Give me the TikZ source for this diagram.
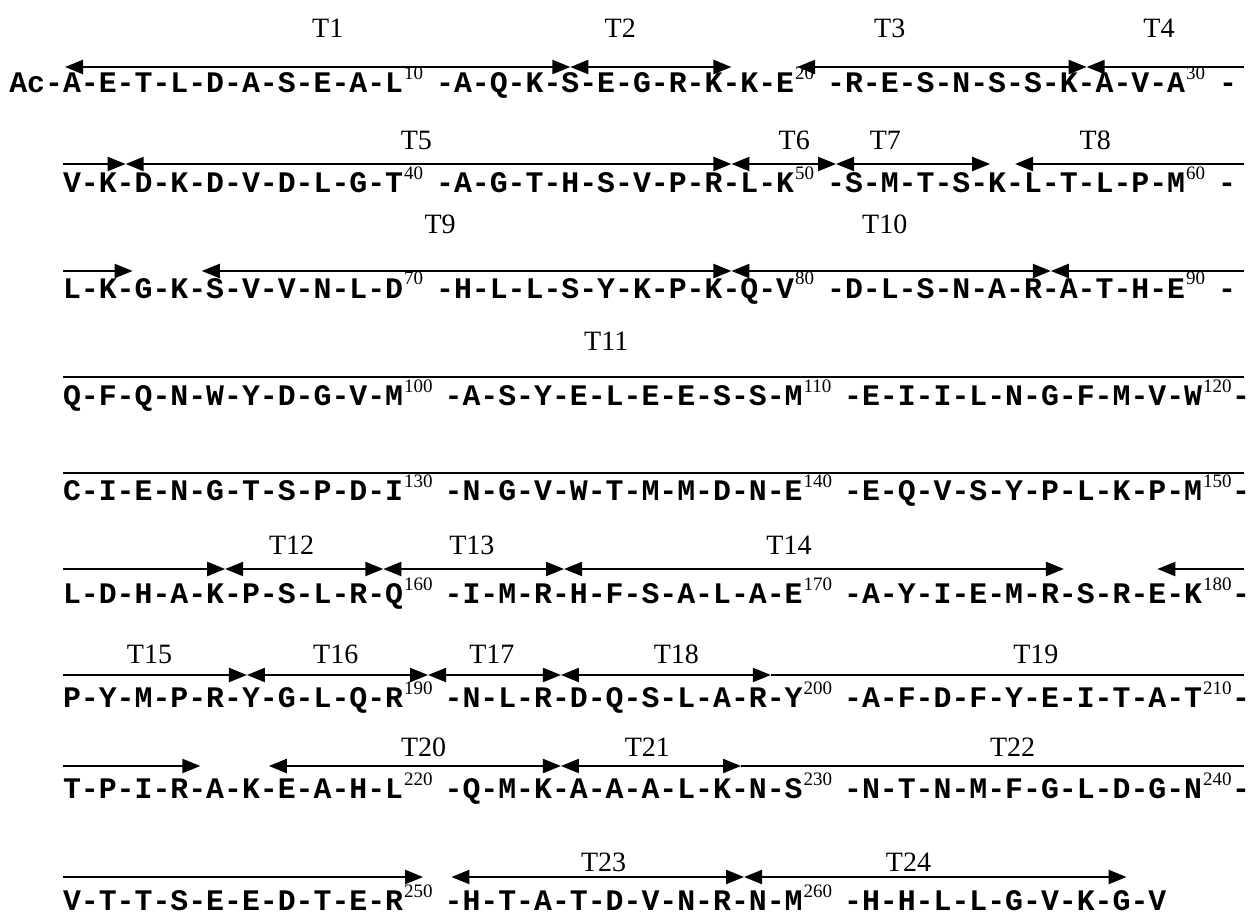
\documentclass[tikz,border=0pt]{standalone}
\usepackage{fontspec}
\setmainfont{Liberation Serif}
\newfontfamily\seqfont{Liberation Mono}
\usetikzlibrary{arrows.meta,calc}
\def\cw{17.9}
\def\xzero{63}
\tikzset{
  res/.style={font=\seqfont\bfseries\fontsize{14.92}{16}\selectfont, inner sep=0pt, outer sep=0pt, anchor=base west},
  supnum/.style={font=\fontsize{9.5}{10}\selectfont, inner sep=0pt, outer sep=0pt, anchor=base west},
  lab/.style={font=\fontsize{14}{16}\selectfont, inner sep=0pt, anchor=base},
  seg/.style={line width=1.1pt},
  arrLR/.style={seg, {Triangle[length=9pt,width=7pt]}-{Triangle[length=9pt,width=7pt]}},
  arrR/.style={seg, -{Triangle[length=9pt,width=7pt]}},
  arrL/.style={seg, {Triangle[length=9pt,width=7pt]}-},
}
% #1 baseline y, #2 first number, #3 decade gap, #4 last index, #5 residues
\newcommand\seqrow[5]{%
  \foreach \res [count=\j from 0] in {#5} {%
    \pgfmathtruncatemacro\dec{\j/10}%
    \pgfmathtruncatemacro\num{#2+\j}%
    \pgfmathtruncatemacro\pos{mod(\j,10)}%
    \pgfmathsetmacro\xx{\xzero+2*\j*\cw+\dec*#3}%
    \node[res] (r\num) at (\xx,#1) {\res};
    \ifnum\pos=9
      \node[supnum] (s\num) at (\xx+\cw+1,#1-13) {\num};
    \else
      \ifnum\j<#4
        \node[res] (h\num) at (\xx+\cw,#1) {-};
      \fi
    \fi
    \ifnum\pos=0 \ifnum\j>0
      \node[res] (g\num) at (\xx-\cw,#1) {-};
    \fi\fi
  }%
}
\newcommand\jn[4]{\coordinate (#1) at ($(#2 |- #3)+(#4,0)$);}
\newcommand\lab[6]{\path ($(#3)!#5!(#4)$) coordinate (#1x); \node[lab] (#1) at (#1x |- #6) {#2};}
\begin{document}
\begin{tikzpicture}[x=0.5pt,y=-0.5pt]
\path[use as bounding box] (0,0) rectangle (1259,915);
\fill[white] (0,0) rectangle (1259,915);

% sequence rows
\seqrow{93}{1}{33}{29}{A,E,T,L,D,A,S,E,A,L,A,Q,K,S,E,G,R,K,K,E,R,E,S,N,S,S,K,A,V,A}
\node[res,anchor=base east] (ac) at (r1.base west) {Ac-};
\node[res] (e1) at ($(r30.base east)+(34,0)$) {-};
\seqrow{192}{31}{33}{29}{V,K,D,K,D,V,D,L,G,T,A,G,T,H,S,V,P,R,L,K,S,M,T,S,K,L,T,L,P,M}
\node[res] (e2) at ($(r60.base east)+(33,0)$) {-};
\seqrow{298}{61}{33}{29}{L,K,G,K,S,V,V,N,L,D,H,L,L,S,Y,K,P,K,Q,V,D,L,S,N,A,R,A,T,H,E}
\node[res] (e3) at ($(r90.base east)+(33,0)$) {-};
\seqrow{405}{91}{41.5}{29}{Q,F,Q,N,W,Y,D,G,V,M,A,S,Y,E,L,E,E,S,S,M,E,I,I,L,N,G,F,M,V,W}
\node[res] (e4) at ($(r120.base east)+(30,0)$) {-};
\seqrow{500}{121}{41.5}{29}{C,I,E,N,G,T,S,P,D,I,N,G,V,W,T,M,M,D,N,E,E,Q,V,S,Y,P,L,K,P,M}
\node[res] (e5) at ($(r150.base east)+(30,0)$) {-};
\seqrow{603}{151}{41.5}{29}{L,D,H,A,K,P,S,L,R,Q,I,M,R,H,F,S,A,L,A,E,A,Y,I,E,M,R,S,R,E,K}
\node[res] (e6) at ($(r180.base east)+(30,0)$) {-};
\seqrow{707}{181}{41.5}{29}{P,Y,M,P,R,Y,G,L,Q,R,N,L,R,D,Q,S,L,A,R,Y,A,F,D,F,Y,E,I,T,A,T}
\node[res] (e7) at ($(r210.base east)+(30,0)$) {-};
\seqrow{798}{211}{41.5}{29}{T,P,I,R,A,K,E,A,H,L,Q,M,K,A,A,A,L,K,N,S,N,T,N,M,F,G,L,D,G,N}
\node[res] (e8) at ($(r240.base east)+(30,0)$) {-};
\seqrow{910}{241}{41.5}{28}{V,T,T,S,E,E,D,T,E,R,H,T,A,T,D,V,N,R,N,M,H,H,L,L,G,V,K,G,V}

% line levels, row ends and label baselines
\foreach \i/\yy in {1/67,2/164,3/271,4/377,5/473,6/569,7/675,8/766,9/877} {
  \coordinate (L\i) at (0,\yy);
  \coordinate (lft\i) at (\xzero,\yy);
  \coordinate (rgt\i) at (1244,\yy);
}
\foreach \i/\yy in {1/38,2/149,3/234,4/350,6/554,7/663,8/756,9/871} {
  \coordinate (Y\i) at (0,\yy);
}

% row 1
\jn{p1a}{r1.west}{L1}{2}
\jn{p1b}{r14.center}{L1}{0}
\jn{p1c}{r18.center}{L1}{17.9}
\jn{p1d}{r20.east}{L1}{3}
\jn{p1e}{r27.center}{L1}{17.9}
\draw[arrLR] (p1a) -- (p1b);
\draw[arrLR] (p1b) -- (p1c);
\draw[arrLR] (p1d) -- (p1e);
\draw[arrL] (p1e) -- (rgt1);
\lab{T1}{T1}{p1a}{p1b}{0.52}{Y1}
\lab{T2}{T2}{p1b}{p1c}{0.31}{Y1}
\lab{T3}{T3}{p1d}{p1e}{0.32}{Y1}
\lab{T4}{T4}{p1e}{rgt1}{0.46}{Y1}

% row 2
\jn{q1}{r32.center}{L2}{17.9}
\jn{q2}{r48.center}{L2}{17.9}
\jn{q3}{r51.center}{L2}{-17.9}
\jn{q4}{r55.center}{L2}{-7}
\jn{q5}{r55.center}{L2}{17.9}
\draw[arrR] (lft2) -- (q1);
\draw[arrLR] (q1) -- (q2);
\draw[arrLR] (q2) -- (q3);
\draw[arrLR] (q3) -- (q4);
\draw[arrL] (q5) -- (rgt2);
\lab{T5}{T5}{q1}{q2}{0.48}{Y2}
\lab{T6}{T6}{q2}{q3}{0.6}{Y2}
\lab{T7}{T7}{q3}{q4}{0.32}{Y2}
\lab{T8}{T8}{q5}{rgt2}{0.35}{Y2}

% row 3
\jn{u1}{r62.center}{L3}{24.9}
\jn{u2}{r64.center}{L3}{22.4}
\jn{u3}{r78.center}{L3}{17.9}
\jn{u4}{r86.center}{L3}{17.9}
\draw[arrR] (lft3) -- (u1);
\draw[arrLR] (u2) -- (u3);
\draw[arrLR] (u3) -- (u4);
\draw[arrL] (u4) -- (rgt3);
\lab{T9}{T9}{u2}{u3}{0.45}{Y3}
\lab{T10}{T10}{u3}{u4}{0.48}{Y3}

% rows 4 and 5
\draw[seg] (lft4) -- (rgt4);
\lab{T11}{T11}{lft4}{rgt4}{0.46}{Y4}
\draw[seg] (lft5) -- (rgt5);

% row 6
\jn{v1}{r155.center}{L6}{10}
\jn{v2}{r159.center}{L6}{25}
\jn{v3}{r163.center}{L6}{21}
\jn{v4}{r176.center}{L6}{14}
\jn{v5}{r179.center}{L6}{0}
\draw[arrR] (lft6) -- (v1);
\draw[arrLR] (v1) -- (v2);
\draw[arrLR] (v2) -- (v3);
\draw[arrLR] (v3) -- (v4);
\draw[arrL] (v5) -- (rgt6);
\lab{T12}{T12}{v1}{v2}{0.42}{Y6}
\lab{T13}{T13}{v2}{v3}{0.49}{Y6}
\lab{T14}{T14}{v3}{v4}{0.45}{Y6}

% row 7
\jn{w1}{r186.center}{L7}{-4}
\jn{w2}{r190.east}{L7}{25}
\jn{w3}{r193.center}{L7}{17.9}
\jn{w4}{r199.center}{L7}{13}
\draw[arrR] (lft7) -- (w1);
\draw[arrLR] (w1) -- (w2);
\draw[arrLR] (w2) -- (w3);
\draw[arrLR] (w3) -- (w4);
\draw[seg] (w4) -- (rgt7);
\lab{T15}{T15}{lft7}{w1}{0.47}{Y7}
\lab{T16}{T16}{w1}{w2}{0.49}{Y7}
\lab{T17}{T17}{w2}{w3}{0.48}{Y7}
\lab{T18}{T18}{w3}{w4}{0.55}{Y7}
\lab{T19}{T19}{w4}{rgt7}{0.56}{Y7}

% row 8
\jn{x1}{r214.center}{L8}{21}
\jn{x2}{r216.center}{L8}{17.9}
\jn{x3}{r223.center}{L8}{17.9}
\jn{x4}{r228.center}{L8}{19}
\draw[arrR] (lft8) -- (x1);
\draw[arrLR] (x2) -- (x3);
\draw[arrLR] (x3) -- (x4);
\draw[seg] (x4) -- (rgt8);
\lab{T20}{T20}{x2}{x3}{0.53}{Y8}
\lab{T21}{T21}{x3}{x4}{0.48}{Y8}
\lab{T22}{T22}{x4}{rgt8}{0.54}{Y8}

% row 9
\jn{y1}{r250.east}{L9}{20}
\jn{y2}{r251.center}{L9}{-20}
\jn{y3}{r258.center}{L9}{22}
\jn{y4}{r268.center}{L9}{5}
\draw[arrR] (lft9) -- (y1);
\draw[arrLR] (y2) -- (y3);
\draw[arrLR] (y3) -- (y4);
\lab{T23}{T23}{y2}{y3}{0.52}{Y9}
\lab{T24}{T24}{y3}{y4}{0.43}{Y9}
\end{tikzpicture}
\end{document}
